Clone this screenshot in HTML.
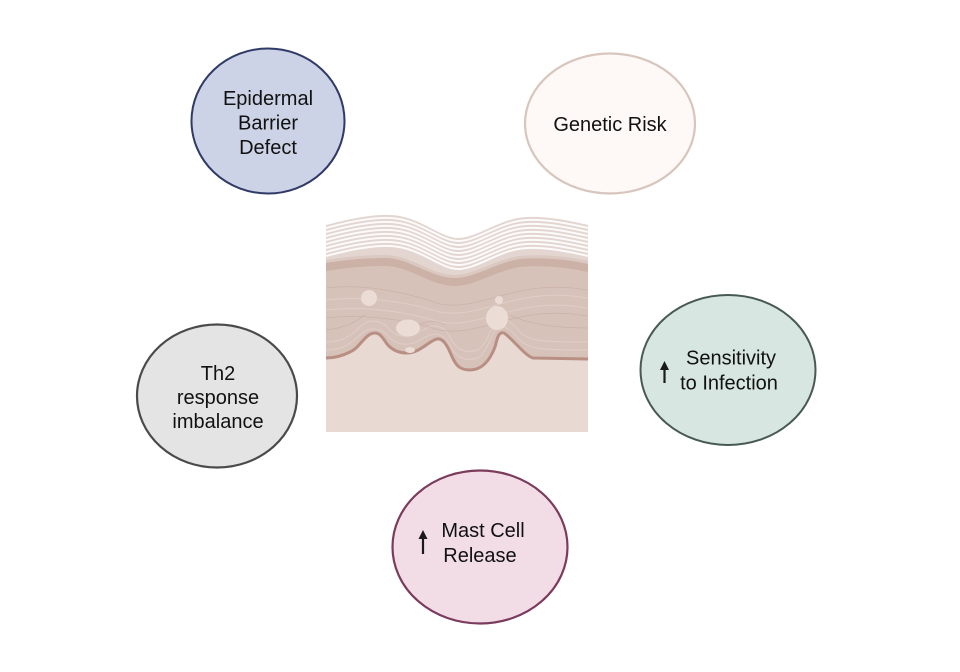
<!DOCTYPE html>
<html>
<head>
<meta charset="utf-8">
<style>
  html,body{margin:0;padding:0;background:#fff;}
  svg{display:block;}
  text{font-family:"Liberation Sans",Arial,sans-serif;font-size:20px;fill:#111;}
</style>
</head>
<body>
<svg width="960" height="672" viewBox="0 0 960 672" xmlns="http://www.w3.org/2000/svg">
  <defs>
    <clipPath id="skinclip"><rect x="326" y="200" width="262" height="232"/></clipPath>
    <path id="wave" d="M326,225 C345,220 370,214 390,215 C420,216 440,238 458,238 C478,238 500,218 527,217 C550,216 575,222 588,225"/>
  </defs>

  <!-- skin illustration -->
  <g clip-path="url(#skinclip)">
    <!-- dermis -->
    <rect x="326" y="300" width="262" height="132" fill="#e9d9d3"/>
    <!-- corneum -->
    <path d="M326,225 C345,220 370,214 390,215 C420,216 440,238 458,238 C478,238 500,218 527,217 C550,216 575,222 588,225 L588,264 C565,259 540,257 520,259 C495,263 475,278 455,278 C430,278 410,258 385,258 C360,258 340,261 326,263 Z" fill="#e3d5d0"/>
    <g fill="none" stroke="#ffffff" stroke-width="2" opacity="0.9">
      <use href="#wave" transform="translate(0,3)"/>
      <use href="#wave" transform="translate(0,7)"/>
      <use href="#wave" transform="translate(0,11)"/>
      <use href="#wave" transform="translate(0,15)"/>
      <use href="#wave" transform="translate(0,19)"/>
      <use href="#wave" transform="translate(0,23)"/>
      <use href="#wave" transform="translate(0,27)"/>
      <use href="#wave" transform="translate(0,31)"/>
    </g>
    <!-- lucidum band -->
    <path d="M326,263 C340,261 360,258 385,258 C410,258 430,278 455,278 C475,278 495,263 520,259 C540,257 565,259 588,264" fill="none" stroke="#dac8c1" stroke-width="6"/>
    <!-- epidermis -->
    <path d="M326,263 C340,261 360,258 385,258 C410,258 430,278 455,278 C475,278 495,263 520,259 C540,257 565,259 588,264 L588,359 L533,358 C525,356 512,338 504,333 C498,331 497,340 495,347 C490,360 482,370 470,370 C458,370 455,364 450,352 C446,343 442,338 437,339 C430,340 420,353 407,353 C398,353 392,350 387,344 C383,338 380,333 375,333 C365,333 360,348 350,352 C342,356 334,358 326,358 Z" fill="#d7c2ba"/>
    <!-- granular darker upper -->
    <path d="M326,263 C340,261 360,258 385,258 C410,258 430,278 455,278 C475,278 495,263 520,259 C540,257 565,259 588,264 L588,272 C565,267 540,265 520,267 C495,271 475,286 455,286 C430,286 410,266 385,266 C360,266 340,269 326,271 Z" fill="#c9ada3" opacity="0.8"/>
    <!-- textures -->
    <g fill="none" stroke="#e2d0ca" stroke-width="1" opacity="0.8">
      <path d="M326,350 C340,350 350,345 360,335 C366,328 380,325 390,338 C398,346 410,346 420,340 C430,333 442,330 450,345 C456,358 466,362 478,358 C486,352 490,340 495,330 C500,322 510,328 520,340 C530,350 545,350 588,350"/>
      <path d="M326,342 C340,342 350,337 360,327 C366,320 380,317 390,330 C398,338 410,338 420,332 C430,325 442,322 450,337 C456,350 466,354 478,350 C486,344 490,332 495,322 C500,314 510,320 520,332 C530,342 545,342 588,342"/>
      <path d="M326,300 C360,296 400,300 440,312 C470,318 500,300 540,296 C560,294 575,296 588,298"/>
      <path d="M326,310 C360,306 400,310 440,322 C470,328 500,310 540,306 C560,304 575,306 588,308"/>
    </g>
    <g fill="none" stroke="#c5a89e" stroke-width="0.8" opacity="0.6">
      <path d="M326,288 C360,284 400,290 440,304 C470,310 500,292 540,288 C560,286 575,288 588,290"/>
      <path d="M326,318 C360,314 400,318 440,330 C470,336 500,318 540,314 C560,312 575,314 588,316"/>
      <path d="M326,330 C345,328 355,322 365,315 M400,330 C420,326 430,316 445,325 M510,315 C530,325 560,328 588,328"/>
    </g>
    <!-- junction border -->
    <path d="M326,358 C334,358 342,356 350,352 C360,348 365,333 375,333 C380,333 383,338 387,344 C392,350 398,353 407,353 C420,353 430,340 437,339 C442,338 446,343 450,352 C455,364 458,370 470,370 C482,370 490,360 495,347 C497,340 498,331 504,333 C512,338 525,356 533,358 L588,359" fill="none" stroke="#b98f84" stroke-width="3"/>
    <!-- white cells -->
    <ellipse cx="369" cy="298" rx="8" ry="8" fill="#ecdcd6" transform="rotate(-30 369 298)"/>
    <ellipse cx="408" cy="328" rx="12" ry="8.5" fill="#ecdcd6"/>
    <ellipse cx="497" cy="318" rx="11" ry="12" fill="#ecdcd6"/>
    <circle cx="499" cy="300" r="4" fill="#ecdcd6"/>
    <ellipse cx="410" cy="350" rx="5" ry="3" fill="#ecdcd6"/>
  </g>

  <!-- Epidermal Barrier Defect -->
  <ellipse cx="268" cy="121" rx="76.5" ry="72.5" fill="#cdd3e6" stroke="#2f3a66" stroke-width="2"/>
  <text x="268" y="105" text-anchor="middle">Epidermal</text>
  <text x="268" y="129.5" text-anchor="middle">Barrier</text>
  <text x="268" y="154" text-anchor="middle">Defect</text>

  <!-- Genetic Risk -->
  <ellipse cx="610" cy="123.5" rx="85" ry="70" fill="#fef9f6" stroke="#d8c6be" stroke-width="2.2"/>
  <text x="610" y="131" text-anchor="middle">Genetic Risk</text>

  <!-- Sensitivity to Infection -->
  <ellipse cx="728" cy="370" rx="87.5" ry="75" fill="#d8e6e2" stroke="#475955" stroke-width="2"/>
  <text x="731" y="364.5" text-anchor="middle">Sensitivity</text>
  <text x="729" y="389.5" text-anchor="middle">to Infection</text>
  <line x1="664.5" y1="368" x2="664.5" y2="383" stroke="#1a1a1a" stroke-width="2.2"/>
  <path d="M660,370 L664.5,361 L669,370 Z" fill="#1a1a1a"/>

  <!-- Th2 response imbalance -->
  <ellipse cx="217" cy="396" rx="80" ry="71.5" fill="#e4e4e4" stroke="#4a4a4a" stroke-width="2.2"/>
  <text x="218" y="380" text-anchor="middle">Th2</text>
  <text x="218" y="404" text-anchor="middle">response</text>
  <text x="218" y="428" text-anchor="middle">imbalance</text>

  <!-- Mast Cell Release -->
  <ellipse cx="480" cy="547" rx="87.5" ry="76.5" fill="#f2dde7" stroke="#7b3b5c" stroke-width="2.2"/>
  <text x="483" y="537" text-anchor="middle">Mast Cell</text>
  <text x="480" y="562" text-anchor="middle">Release</text>
  <line x1="423" y1="537" x2="423" y2="554" stroke="#1a1a1a" stroke-width="2.2"/>
  <path d="M418.5,539 L423,530 L427.5,539 Z" fill="#1a1a1a"/>
</svg>
</body>
</html>
